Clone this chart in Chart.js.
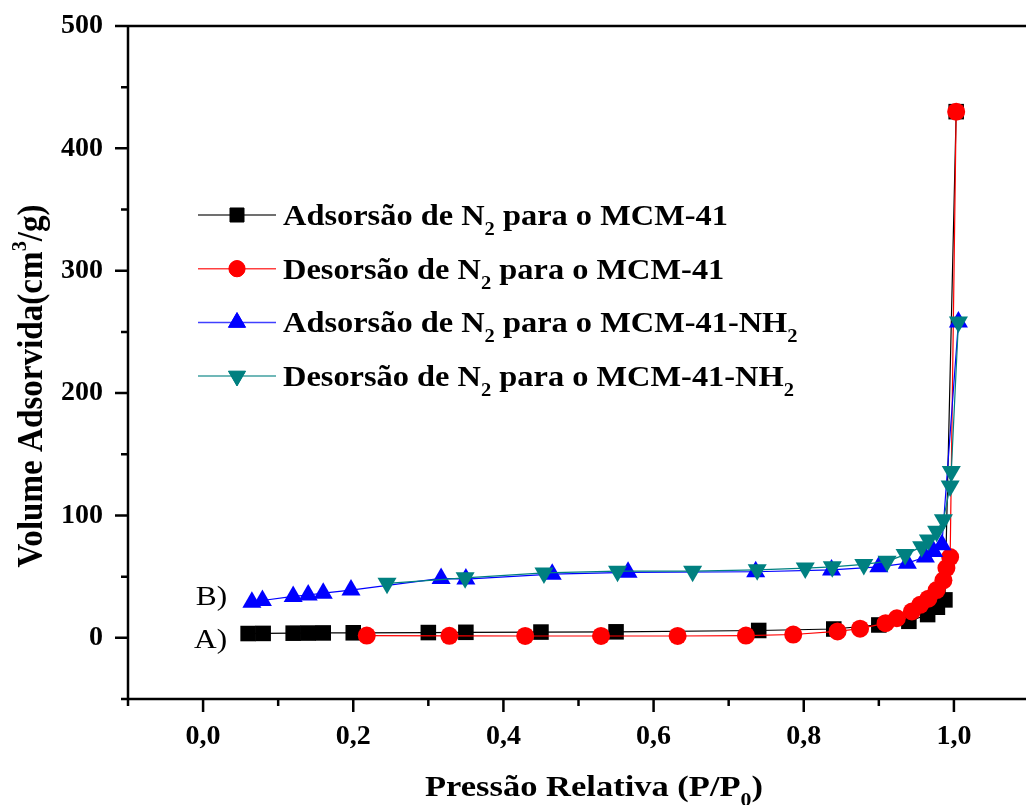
<!DOCTYPE html>
<html>
<head>
<meta charset="utf-8">
<script src="https://cdn.jsdelivr.net/npm/chart.js@4.4.0/dist/chart.umd.min.js"></script>
<style>
html, body { margin: 0; padding: 0; background: #fff; overflow: hidden; }
#wrap { width: 1040px; height: 805px; position: relative; }
</style>
</head>
<body>
<div id="wrap"><canvas id="isoChart"></canvas></div>
<script>
// Adsorção / dessorção de N2 - MCM-41 (A) e MCM-41-NH2 (B)
const adsMcmX = [0.06, 0.08, 0.12, 0.14, 0.16, 0.20, 0.30, 0.35, 0.45, 0.55, 0.74, 0.84, 0.90, 0.94, 0.965, 0.978, 0.988, 1.003];
const adsMcmY = [3.5, 3.6, 3.8, 3.9, 4.0, 4.1, 4.3, 4.5, 4.7, 4.9, 6.0, 7.2, 10.5, 13.5, 19, 25, 31, 430];

const desMcmX = [1.003, 0.995, 0.990, 0.986, 0.977, 0.966, 0.955, 0.944, 0.924, 0.909, 0.875, 0.845, 0.786, 0.723, 0.632, 0.530, 0.429, 0.328, 0.218];
const desMcmY = [430, 66, 57, 47, 39, 32, 27, 21.5, 16, 12, 7.5, 5.2, 2.7, 1.8, 1.5, 1.5, 1.5, 1.6, 1.8];

const adsNh2X = [0.065, 0.079, 0.12, 0.14, 0.16, 0.197, 0.317, 0.35, 0.465, 0.566, 0.736, 0.837, 0.90, 0.938, 0.962, 0.973, 0.984, 1.006];
const adsNh2Y = [29, 30.5, 33.8, 35, 36.5, 39, 48.5, 48, 52, 53.5, 54, 55.5, 58, 61, 66, 70.5, 76, 258];

const desNh2X = [1.006, 0.9965, 0.995, 0.986, 0.977, 0.966, 0.957, 0.935, 0.911, 0.880, 0.838, 0.802, 0.738, 0.652, 0.552, 0.454, 0.349, 0.245];
const desNh2Y = [258, 136, 124, 96.5, 87, 80, 74.5, 68, 62.5, 60, 58, 57, 55.6, 54.5, 54.5, 53, 49, 44.5];

const seriesLabels = [
	'Adsorsão de N_{2} para o MCM-41',
	'Desorsão de N_{2} para o MCM-41',
	'Adsorsão de N_{2} para o MCM-41-NH_{2}',
	'Desorsão de N_{2} para o MCM-41-NH_{2}'
];
const seriesColors = ['#000000', '#ff0000', '#0000ff', '#008080'];
const seriesShapes = ['rect', 'circle', 'triangle', 'triangle'];

const xMajorTicks = [0, 0.2, 0.4, 0.6, 0.8, 1.0];
const yMajorTicks = [0, 100, 200, 300, 400, 500];
const xTitle = 'Pressão Relativa (P/P_{0})';
const yTitle = 'Volume Adsorvida(cm^{3}/g)';
const groupLabels = ['A)', 'B)'];
const groupLabelY = [0, 35];

const FONT = "'Liberation Serif', 'Times New Roman', serif";
const STRETCH = 1.12;

function toPoints(xs, ys) {
	return xs.map((x, i) => ({ x: x, y: ys[i] }));
}

function parseRich(str) {
	const parts = [];
	const re = /([_^])\{([^}]*)\}/g;
	let last = 0, m;
	while ((m = re.exec(str))) {
		if (m.index > last) parts.push({ t: str.slice(last, m.index), k: '' });
		parts.push({ t: m[2], k: m[1] === '_' ? 'sub' : 'sup' });
		last = re.lastIndex;
	}
	if (last < str.length) parts.push({ t: str.slice(last), k: '' });
	return parts;
}

function drawRich(ctx, str, x, y, o) {
	const parts = parseRich(str);
	const fontFor = p => `${o.weight} ${p.k ? Math.round(o.size * 0.62) : o.size}px ${FONT}`;
	let w = 0;
	parts.forEach(p => {
		ctx.font = fontFor(p);
		p.w = ctx.measureText(p.t).width;
		w += p.w;
	});
	ctx.save();
	ctx.translate(x, y);
	if (o.rot) ctx.rotate(o.rot);
	ctx.scale(o.sx || 1, 1);
	let cx = o.align === 'center' ? -w / 2 : (o.align === 'right' ? -w : 0);
	ctx.textAlign = 'left';
	ctx.textBaseline = 'alphabetic';
	ctx.fillStyle = '#000';
	parts.forEach(p => {
		ctx.font = fontFor(p);
		const dy = p.k === 'sub' ? o.size * 0.33 : (p.k === 'sup' ? -o.size * 0.45 : 0);
		ctx.fillText(p.t, cx, dy);
		cx += p.w;
	});
	ctx.restore();
}

const pointSizes = { rect: 11, circle: 9, triangle: 11 };

// moldura, ticks, títulos, legenda
const decorPlugin = {
	id: 'decor',
	afterDraw(chart) {
		const ctx = chart.ctx;
		const xs = chart.scales.x;
		const ys = chart.scales.y;
		const a = chart.chartArea;
		ctx.save();
		ctx.strokeStyle = '#000';
		ctx.lineWidth = 2.5;
		ctx.beginPath();
		ctx.moveTo(a.left, a.top); ctx.lineTo(a.right, a.top);
		ctx.moveTo(a.right, a.top); ctx.lineTo(a.right, a.bottom);
		ctx.moveTo(a.left, a.top - 1); ctx.lineTo(a.left, a.bottom + 1);
		ctx.moveTo(a.left - 1, a.bottom); ctx.lineTo(a.right, a.bottom);
		ctx.stroke();

		ctx.beginPath();
		for (let i = -1; i <= 11; i++) {
			const px = xs.getPixelForValue(i / 10);
			const len = i % 2 === 0 ? 13 : 7;
			ctx.moveTo(px, a.bottom); ctx.lineTo(px, a.bottom + len);
		}
		for (let i = -1; i <= 10; i++) {
			const py = ys.getPixelForValue(i * 50);
			const len = i % 2 === 0 ? 13 : 7;
			ctx.moveTo(a.left, py); ctx.lineTo(a.left - len, py);
		}
		ctx.stroke();
		ctx.restore();

		drawRich(ctx, xTitle, 594, 796, { size: 30, weight: 'bold', align: 'center', sx: 1.15 });
		drawRich(ctx, yTitle, 42, 386, { size: 36, weight: 'bold', align: 'center', rot: -Math.PI / 2, sx: 0.92 });

		groupLabels.forEach((lab, i) => {
			drawRich(ctx, lab, xs.getPixelForValue(0.032), ys.getPixelForValue(groupLabelY[i]) + 10,
				{ size: 28, weight: 'normal', align: 'right', sx: STRETCH });
		});

		// legenda
		seriesLabels.forEach((lab, i) => {
			const cy = 215 + i * 53.7;
			ctx.save();
			ctx.strokeStyle = seriesColors[i];
			ctx.lineWidth = 1.5;
			ctx.globalAlpha = 0.75;
			ctx.beginPath();
			ctx.moveTo(198, cy); ctx.lineTo(276, cy);
			ctx.stroke();
			ctx.restore();
			ctx.save();
			ctx.fillStyle = seriesColors[i];
			ctx.strokeStyle = seriesColors[i];
			ctx.lineWidth = 1;
			Chart.helpers.drawPoint(ctx, {
				pointStyle: seriesShapes[i],
				radius: pointSizes[seriesShapes[i]] * 0.9,
				rotation: i === 3 ? 180 : 0,
				borderWidth: 1
			}, 237, cy);
			ctx.fill();
			ctx.restore();
			drawRich(ctx, lab, 283, cy + 10, { size: 30, weight: 'bold', align: 'left', sx: 1.08 });
		});
	}
};

function makeSet(i, xs, ys, order) {
	const shape = seriesShapes[i];
	return {
		label: seriesLabels[i].replace(/_\{(\d)\}/g, '$1'),
		data: toPoints(xs, ys),
		showLine: true,
		borderColor: seriesColors[i],
		backgroundColor: seriesColors[i],
		borderWidth: 1.2,
		pointStyle: shape,
		pointRotation: i === 3 ? 180 : 0,
		pointRadius: pointSizes[shape],
		pointBorderWidth: 0,
		pointHoverRadius: pointSizes[shape],
		tension: 0,
		order: order
	};
}

const tickFont = { family: FONT, size: 28, weight: 'bold' };

function noPad(s) {
	s.paddingTop = 0;
	s.paddingBottom = 0;
	s.paddingLeft = 0;
	s.paddingRight = 0;
}

new Chart(document.getElementById('isoChart'), {
	type: 'scatter',
	data: {
		datasets: [
			makeSet(0, adsMcmX, adsMcmY, 4),
			makeSet(1, desMcmX, desMcmY, 3),
			makeSet(2, adsNh2X, adsNh2Y, 2),
			makeSet(3, desNh2X, desNh2Y, 1)
		]
	},
	options: {
		responsive: true,
		maintainAspectRatio: false,
		animation: false,
		layout: { padding: { top: 26, right: 5, left: 0, bottom: 0 } },
		scales: {
			x: {
				type: 'linear',
				min: -0.1,
				max: 1.1,
				grid: { display: false, drawTicks: false },
				border: { display: false },
				ticks: {
					stepSize: 0.1,
					autoSkip: false,
					maxRotation: 0,
					padding: 21,
					color: '#000',
					font: tickFont,
					callback: v => {
						const r = Math.round(v * 10) / 10;
						return xMajorTicks.some(t => Math.abs(t - r) < 1e-6) ? r.toFixed(1).replace('.', ',') : '';
					}
				},
				afterFit: s => { s.height = 106; noPad(s); }
			},
			y: {
				min: -50,
				max: 500,
				grid: { display: false, drawTicks: false },
				border: { display: false },
				ticks: {
					stepSize: 50,
					autoSkip: false,
					padding: 25,
					color: '#000',
					font: tickFont,
					callback: v => yMajorTicks.includes(v) ? String(v) : ''
				},
				afterFit: s => { s.width = 128; noPad(s); }
			}
		},
		plugins: {
			legend: { display: false },
			tooltip: { enabled: false }
		}
	},
	plugins: [decorPlugin]
});
</script>
</body>
</html>
